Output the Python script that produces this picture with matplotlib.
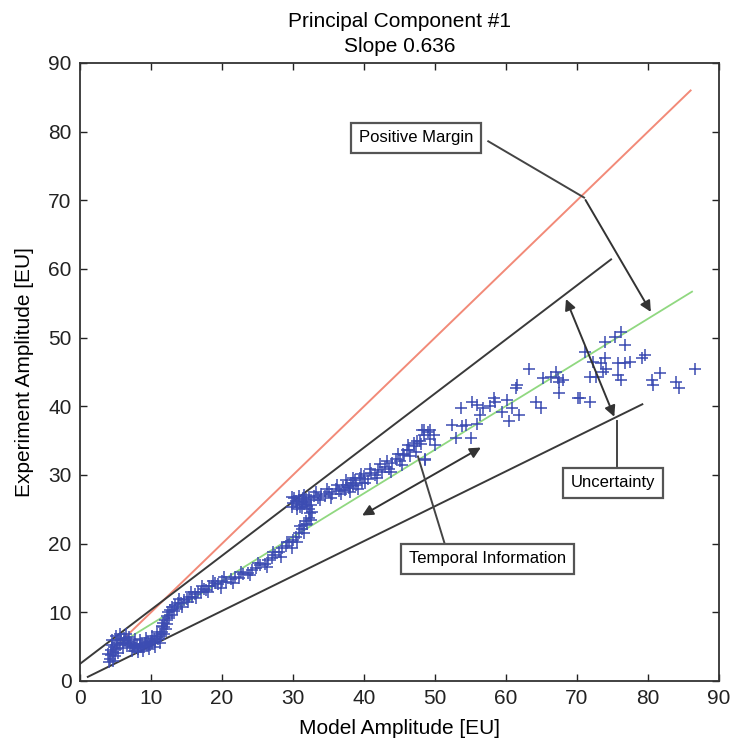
import matplotlib
matplotlib.use("Agg")
import matplotlib.pyplot as plt

plt.rcParams['font.family'] = ['Liberation Sans', 'DejaVu Sans']

# Measured samples: model amplitude vs experiment amplitude
model_amp = [
    4.2, 4.4, 4.3, 4.6, 4.8, 4.5, 5.0, 5.2, 4.9, 5.4, 5.6, 5.8, 6.0, 6.2, 6.4, 6.6, 6.8, 7.0, 7.2, 7.4,
    7.6, 7.8, 8.0, 8.2, 8.4, 8.6, 8.8, 9.0, 9.2, 9.4, 9.6, 9.8, 10.0, 10.2, 10.4, 10.6, 10.8, 11.0, 11.2, 11.4,
    11.6, 11.8, 11.7, 12.0, 12.2, 12.4, 12.7, 13.0, 13.4, 13.8, 14.2, 14.6, 15.0, 15.4, 15.8, 16.2, 16.6, 17.0, 17.4, 17.8,
    18.2, 18.6, 19.0, 19.5, 20.0, 20.6, 21.2, 21.8, 22.4, 23.0, 23.6, 24.2, 24.8, 25.4, 26.0, 26.5, 27.0, 27.5, 28.0, 28.5,
    29.0, 29.5, 30.0, 30.4, 30.8, 31.2, 31.6, 31.9, 32.2, 32.4, 32.3, 32.0, 31.6, 31.2, 30.8, 30.4, 30.0, 29.8, 30.2, 30.6,
    31.0, 31.4, 31.8, 32.2, 32.6, 33.0, 33.5, 34.0, 34.5, 35.0, 35.5, 36.0, 36.5, 37.0, 37.3, 37.6, 37.9, 38.2, 38.5, 38.8,
    39.1, 39.4, 39.7, 40.0, 40.5, 41.0, 41.5, 42.0, 42.5, 43.0, 43.5, 44.0, 44.5, 45.0, 45.5, 46.0, 46.5, 47.0, 47.5, 48.0,
    48.5, 49.0, 48.6,
    3.9, 4.1, 4.7, 4.5, 5.1, 5.3, 5.7, 6.1, 6.5, 6.9, 7.3, 7.7, 8.1, 8.5, 8.9, 9.3, 9.7, 10.1, 10.5, 10.9,
    11.3, 11.9, 12.1, 12.3, 11.5, 12.6, 12.9, 13.2, 13.6, 14.0, 14.4, 15.2, 15.6, 16.4, 17.2, 18.0, 18.8, 19.8, 20.3, 21.5,
    22.7, 24.0, 25.0, 26.3, 27.2, 28.3, 29.2, 29.8, 30.6, 31.0, 31.5, 32.0, 32.6, 32.7, 32.5, 31.9, 31.3, 30.5, 29.9, 30.9,
    31.6, 33.2, 33.8, 34.8, 35.3, 36.2, 36.8, 37.5, 38.0, 38.4, 38.9, 39.6, 40.2, 40.8, 41.8, 42.3, 43.3, 43.8, 44.8, 45.3,
    46.2, 47.3, 48.2, 49.3,
    45.6, 46.3, 47.0, 47.9, 48.4, 49.3, 49.8, 50.0, 48.6, 52.4, 52.9, 53.8, 54.3, 55.0, 55.9, 53.6, 55.2, 55.9, 56.4, 56.7,
    57.8, 58.3, 58.5, 59.5, 60.2, 60.4, 60.9, 61.9, 61.6, 61.4, 63.3, 64.2, 64.9, 65.2, 66.3, 67.0, 67.5, 67.5, 68.0, 70.1,
    67.3, 71.1, 73.9, 75.3, 76.2, 76.7, 73.9, 73.4, 72.2, 74.1, 75.8, 76.7, 77.4, 79.1, 79.6, 71.8, 72.7, 73.7, 75.8, 76.2,
    70.4, 71.8, 81.7, 80.5, 80.7, 84.0, 84.3, 86.6,
]
experiment_amp = [
    3.2, 3.8, 4.5, 4.2, 5.0, 5.3, 4.6, 5.5, 3.6, 5.9, 5.2, 6.1, 5.6, 6.3, 5.9, 5.4, 5.8, 5.1, 5.6, 4.9,
    5.3, 4.8, 5.2, 4.7, 5.1, 4.9, 5.4, 5.0, 5.5, 5.2, 5.7, 5.3, 5.8, 5.5, 6.1, 5.8, 6.4, 6.1, 6.8, 6.5,
    7.2, 7.8, 8.4, 8.9, 9.5, 10.0, 10.4, 10.8, 11.0, 11.4, 11.3, 11.8, 12.0, 12.3, 12.2, 12.7, 12.9, 13.0, 13.4, 13.3,
    13.8, 13.9, 14.2, 14.1, 14.6, 14.4, 14.9, 15.2, 15.0, 15.6, 15.8, 16.2, 16.4, 16.9, 17.1, 17.6, 17.9, 18.4, 18.8, 19.3,
    19.7, 20.2, 20.6, 21.0, 21.5, 22.1, 22.7, 23.3, 23.8, 24.4, 25.0, 25.5, 25.8, 26.1, 26.4, 26.2, 25.9, 25.4, 26.6, 25.6,
    25.3, 26.6, 26.0, 26.8, 26.3, 26.9, 26.6, 27.2, 26.9, 27.5, 27.3, 27.9, 27.6, 28.3, 27.8, 28.6, 28.1, 28.9, 28.4, 29.2,
    28.0, 29.5, 28.8, 29.9, 29.4, 30.3, 30.0, 30.8, 30.5, 31.2, 30.9, 31.7, 32.3, 32.0, 33.0, 33.6, 32.8, 34.2, 35.0, 34.5,
    35.8, 36.3, 32.3,
    4.0, 2.8, 2.9, 6.0, 6.5, 4.1, 6.8, 4.8, 6.9, 6.4, 4.4, 6.1, 4.2, 5.9, 4.4, 6.2, 4.7, 6.6, 5.0, 7.1,
    5.6, 6.9, 7.6, 8.3, 8.0, 9.2, 9.6, 10.2, 10.5, 12.0, 10.8, 11.5, 12.9, 12.1, 13.8, 12.9, 14.5, 13.6, 15.2, 14.3,
    15.9, 15.5, 17.2, 16.6, 18.8, 18.0, 20.3, 19.4, 20.3, 22.6, 21.5, 22.8, 23.4, 24.6, 25.6, 26.5, 25.2, 25.0, 26.8, 27.0,
    27.1, 27.5, 26.3, 27.9, 26.7, 28.5, 27.2, 29.2, 27.5, 29.6, 28.6, 30.2, 28.9, 30.9, 29.6, 31.6, 32.1, 30.4, 33.0, 31.4,
    34.3, 33.4, 36.5, 35.2,
    32.9, 33.7, 34.6, 34.9, 36.6, 36.6, 35.8, 34.4, 32.2, 37.3, 35.4, 37.1, 37.3, 35.4, 37.5, 39.7, 40.7, 40.2, 38.8, 39.7,
    40.0, 41.2, 40.7, 39.2, 40.9, 37.8, 39.7, 38.8, 43.1, 42.6, 45.5, 40.7, 39.7, 44.1, 44.3, 45.0, 43.6, 41.9, 43.8, 41.2,
    44.1, 47.9, 49.4, 50.1, 50.8, 48.9, 47.0, 46.3, 46.5, 45.5, 46.3, 46.3, 46.5, 47.0, 47.5, 44.3, 44.3, 45.0, 44.6, 43.8,
    41.2, 40.7, 44.8, 43.8, 43.1, 43.6, 42.6, 45.5,
]

# Reference lines (end points)
unity_x, unity_y = [4.2, 86.0], [4.2, 86.0]
fit_x, fit_y = [5.5, 86.2], [5.4, 56.7]
upper_bound_x, upper_bound_y = [0.0, 74.8], [2.5, 61.4]
lower_bound_x, lower_bound_y = [1.1, 79.2], [0.6, 40.3]

fig = plt.figure(figsize=(7.39, 7.49), dpi=100)
ax = fig.add_axes([80 / 739, 1 - 681 / 749, 639 / 739, 618 / 749])

ax.plot(unity_x, unity_y, color='#f28a78', lw=1.4, zorder=2)
ax.plot(upper_bound_x, upper_bound_y, color='#3a3a3a', lw=1.4, zorder=2)
ax.plot(lower_bound_x, lower_bound_y, color='#3a3a3a', lw=1.4, zorder=2)
ax.plot(fit_x, fit_y, color='#90d880', lw=1.3, zorder=2)
ax.plot(model_amp, experiment_amp, linestyle='none', marker='+', ms=9, mew=1.1,
        color='#3c4cb2', zorder=3)

ax.set_xlim(0, 90)
ax.set_ylim(0, 90)
ax.set_xticks(range(0, 91, 10))
ax.set_yticks(range(0, 91, 10))
ax.tick_params(direction='in', top=True, right=True, length=5, width=1,
               labelsize=15, colors='#222222', pad=6)
for s in ax.spines.values():
    s.set_color('#333333')
    s.set_linewidth(1.3)

ax.set_xlabel('Model Amplitude [EU]', fontsize=15, labelpad=8)
ax.set_ylabel('Experiment Amplitude [EU]', fontsize=15, labelpad=10)
ax.set_title('Principal Component #1\nSlope 0.636', fontsize=15, pad=8, linespacing=1.4)

box = dict(boxstyle='square,pad=0.45', fc='white', ec='#555555', lw=1.6)
arrow_kw = dict(arrowstyle='-|>', color='#333333', lw=1.4, mutation_scale=16)
dbl_kw = dict(arrowstyle='<|-|>', color='#333333', lw=1.4, mutation_scale=16)
line_color = '#444444'

# Positive Margin callout
ax.text(47.3, 79.1, 'Positive Margin', fontsize=12, ha='center', va='center', bbox=box, zorder=5)
ax.plot([57.5, 71.0], [78.6, 70.4], color=line_color, lw=1.4, zorder=4)
ax.annotate('', xy=(80.6, 53.4), xytext=(71.0, 70.4), arrowprops=arrow_kw, zorder=4)

# Uncertainty callout
ax.annotate('', xy=(68.3, 56.0), xytext=(75.4, 38.1), arrowprops=dbl_kw, zorder=4)
ax.plot([75.6, 75.6], [37.8, 31.3], color=line_color, lw=1.4, zorder=4)
ax.text(75.1, 28.9, 'Uncertainty', fontsize=12, ha='center', va='center', bbox=box, zorder=5)

# Temporal Information callout
ax.annotate('', xy=(39.4, 23.9), xytext=(56.8, 34.2), arrowprops=dbl_kw, zorder=4)
ax.plot([51.3, 47.6], [20.2, 32.7], color=line_color, lw=1.4, zorder=4)
ax.text(57.4, 17.8, 'Temporal Information', fontsize=12, ha='center', va='center', bbox=box, zorder=5)

fig.savefig('out.png', dpi=100)
